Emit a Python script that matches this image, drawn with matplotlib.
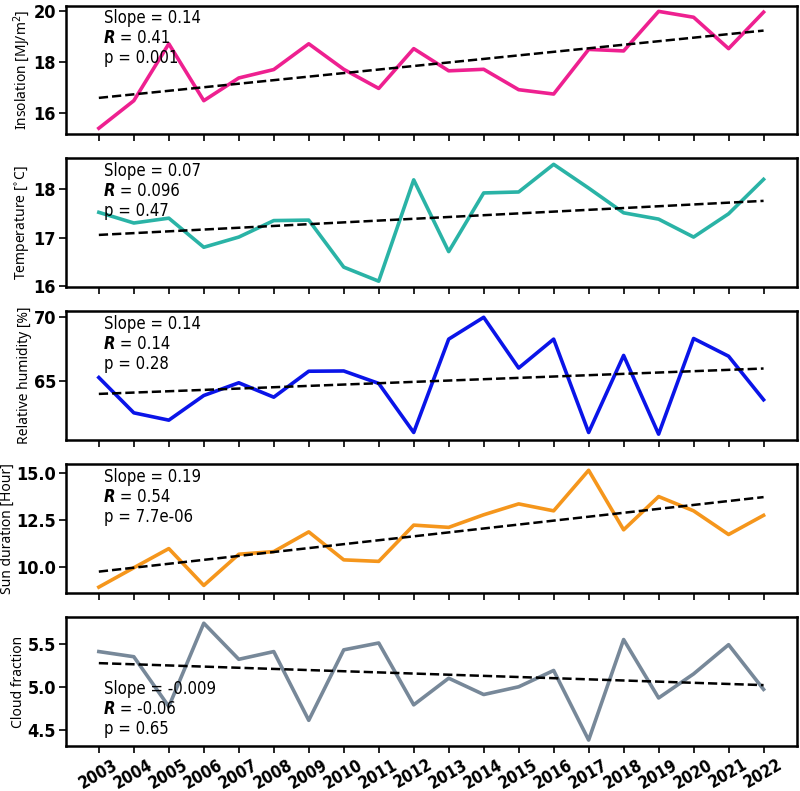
import numpy as np
import matplotlib
matplotlib.use("Agg")
import matplotlib.pyplot as plt

years = list(range(2003, 2023))

insolation = [15.39, 16.47, 18.70, 16.47, 17.36, 17.69, 18.70, 17.70, 16.95, 18.51,
              17.64, 17.70, 16.90, 16.73, 18.48, 18.42, 19.97, 19.74, 18.51, 19.94]
temperature = [17.52, 17.30, 17.40, 16.80, 17.01, 17.35, 17.36, 16.39, 16.10, 18.19,
               16.71, 17.92, 17.94, 18.51, 18.02, 17.51, 17.38, 17.01, 17.49, 18.20]
humidity = [65.28, 62.53, 61.96, 63.88, 64.87, 63.75, 65.77, 65.79, 64.82, 61.00,
            68.27, 69.97, 66.02, 68.27, 61.00, 67.00, 60.87, 68.32, 66.94, 63.55]
sunshine = [8.95, 9.98, 11.00, 9.04, 10.70, 10.84, 11.89, 10.40, 10.32, 12.25,
            12.13, 12.80, 13.38, 13.01, 15.17, 12.00, 13.77, 13.01, 11.75, 12.77]
cloud = [5.41, 5.35, 4.77, 5.74, 5.32, 5.41, 4.61, 5.43, 5.51, 4.79,
         5.10, 4.91, 5.00, 5.19, 4.38, 5.55, 4.87, 5.15, 5.49, 4.97]

ylabels = ["Insolation [MJ/m$^2$]", "Temperature [$^{\\circ}$C]", "Relative humidity [%]",
           "Sun duration [Hour]", "Cloud fraction"]
colors = ["#ee2090", "#2ab3a6", "#0a14e8", "#f5961c", "#778899"]
slopes = ["0.14", "0.07", "0.14", "0.19", "-0.009"]
rvals = ["0.41", "0.096", "0.14", "0.54", "-0.06"]
pvals = ["0.001", "0.47", "0.28", "7.7e-06", "0.65"]
yticks = [[16, 18, 20], [16, 17, 18], [65, 70], [10.0, 12.5, 15.0], [4.5, 5.0, 5.5]]
series = [insolation, temperature, humidity, sunshine, cloud]

plt.rcParams['font.family'] = ["Noto Sans", "DejaVu Sans"]
narrow = dict(family="DejaVu Sans", stretch="condensed")

fig, axes = plt.subplots(5, 1, figsize=(8, 7.91), dpi=100, sharex=True)
fig.subplots_adjust(left=0.082, right=0.996, top=0.993, bottom=0.057, hspace=0.19)

x = np.array(years)
for i, ax in enumerate(axes):
    y = np.array(series[i])
    ax.plot(x, y, color=colors[i], lw=2.6)
    m, b = np.polyfit(x, y, 1)
    ax.plot(x, m * x + b, 'k--', lw=1.8)
    ax.set_ylabel(ylabels[i], fontsize=10, labelpad=1)
    ax.set_yticks(yticks[i])
    if i == 3 or i == 4:
        ax.set_yticklabels(["%.1f" % v for v in yticks[i]])
    for sp in ax.spines.values():
        sp.set_linewidth(1.8)
    ax.tick_params(axis='both', width=1.2, length=5, pad=2)
    for lab in ax.get_yticklabels():
        lab.set(**narrow)
        lab.set_fontweight('bold')
        lab.set_fontsize(13)

    ty = 0.9 if i < 4 else 0.44
    ax.text(0.052, ty, "Slope = " + slopes[i], transform=ax.transAxes,
            va='center', ha='left', fontsize=12, **narrow)
    t2 = ax.text(0.052, ty - 0.155, "R", transform=ax.transAxes, va='center', ha='left',
                 fontsize=12, fontweight='bold', style='italic', **narrow)
    ax.annotate(" = " + rvals[i], xy=(1, 0.5), xycoords=t2, va='center', ha='left',
                fontsize=12, **narrow)
    ax.text(0.052, ty - 0.31, "p = " + pvals[i], transform=ax.transAxes,
            va='center', ha='left', fontsize=12, **narrow)

axes[-1].set_xticks(years)
axes[-1].set_xticklabels([str(v) for v in years], rotation=30, ha='center',
                         fontweight='bold', fontsize=12, **narrow)

plt.savefig("out.png", dpi=100)
